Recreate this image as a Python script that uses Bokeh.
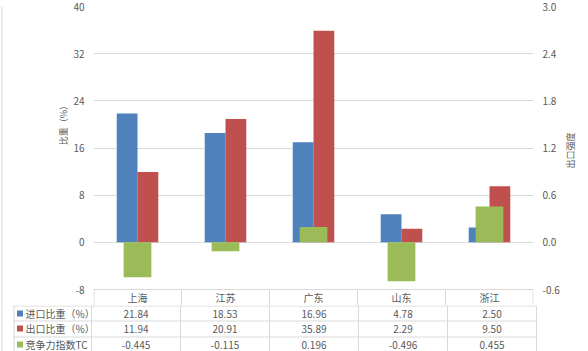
import math
from bokeh.plotting import figure
from bokeh.layouts import column, row
from bokeh.models import Range1d, LinearAxis, FixedTicker, ColumnDataSource, NumeralTickFormatter
from bokeh.core.properties import value
from bokeh.embed import file_html
from bokeh.resources import INLINE

# ---------------- data ----------------
categories = ["上海", "江苏", "广东", "山东", "浙江"]
import_share = [21.84, 18.53, 16.96, 4.78, 2.50]
export_share = [11.94, 20.91, 35.89, 2.29, 9.50]
tc_index = [-0.445, -0.115, 0.196, -0.496, 0.455]
series_names = ["进口比重（%）", "出口比重（%）", "竞争力指数TC"]
left_ticks = [-8, 0, 8, 16, 24, 32, 40]
right_ticks = [-0.6, 0.0, 0.6, 1.2, 1.8, 2.4, 3.0]
left_title = "比重（%）"
right_title = "出口强度"
colors = ["#4F81BD", "#C0504D", "#9BBB59"]

# ---------------- layout (pixels) ----------------
W, H = 588, 351
LEFT_W, RIGHT_X = 70, 562          # side strips for the axis titles
FL, FR, FT = 91, 536, 6            # plot frame
AX_BOTTOM, TOP_H = 289, 305        # -8 line, bottom of the header row
y_top, y_min = 40, -8
ppu = (AX_BOTTOM - FT) / (y_top - y_min)
y_start = y_min - (TOP_H - AX_BOTTOM) / ppu
r2 = (right_ticks[-1] - right_ticks[0]) / (y_top - y_min)
n = len(categories)
cw = (FR - FL) / n

def dx(px):
    return (px - FL) / cw

def dy(py):
    return y_top - (py - FT) / ppu

FONT = "Noto Sans CJK SC"
TXT = "#595959"
GRID = "#D9D9D9"


def blank(width, height, xr, yr):
    f = figure(width=width, height=height, x_range=xr, y_range=yr, output_backend="svg",
               toolbar_location=None, x_axis_location=None, y_axis_location=None,
               min_border=0)
    f.min_border_left = f.min_border_right = f.min_border_top = f.min_border_bottom = 0
    f.outline_line_color = None
    f.xgrid.grid_line_color = None
    f.ygrid.grid_line_color = None
    return f

# ---------------- main chart ----------------
MAIN_W = RIGHT_X - LEFT_W
p = figure(width=MAIN_W, height=TOP_H, x_range=Range1d(0, n), y_range=Range1d(y_start, y_top),
           output_backend="svg", toolbar_location=None, x_axis_location=None,
           min_border_left=FL - LEFT_W, min_border_right=RIGHT_X - FR, min_border_top=FT,
           min_border_bottom=0)
p.extra_y_ranges = {"tc": Range1d(y_start * r2, y_top * r2)}
p.outline_line_color = None

ya = p.yaxis[0]
ya.ticker = FixedTicker(ticks=left_ticks)
ya.formatter = NumeralTickFormatter(format="0")
ya.major_label_overrides = {v: ("%d" % v) for v in left_ticks if v < 0}
ax2 = LinearAxis(y_range_name="tc", ticker=FixedTicker(ticks=right_ticks),
                 formatter=NumeralTickFormatter(format="0.0"))
ax2.major_label_overrides = {v: ("%.1f" % v) for v in right_ticks if v < 0}
p.add_layout(ax2, "right")
for ax, so in ((ya, 9), (ax2, 9)):
    ax.axis_line_color = None
    ax.major_tick_line_color = None
    ax.minor_tick_line_color = None
    ax.major_tick_out = 0
    ax.major_tick_in = 0
    ax.minor_tick_out = 0
    ax.major_label_standoff = so
    ax.major_label_text_font = FONT
    ax.major_label_text_font_size = "10px"
    ax.major_label_text_color = TXT

p.ygrid.ticker = FixedTicker(ticks=left_ticks)
p.ygrid.grid_line_color = GRID
p.xgrid.grid_line_color = None

xc = [i + 0.5 for i in range(n)]
bw = 0.236
src = ColumnDataSource(dict(
    x_imp=[x - bw / 2 for x in xc], x_exp=[x + bw / 2 for x in xc], x_tc=xc,
    imp=import_share, exp=export_share, tc=tc_index))
p.vbar(x="x_imp", top="imp", bottom=0, width=bw, source=src, fill_color=colors[0], line_color=None)
p.vbar(x="x_exp", top="exp", bottom=0, width=bw, source=src, fill_color=colors[1], line_color=None)
p.vbar(x="x_tc", top="tc", bottom=0, width=0.315, source=src, fill_color=colors[2],
       line_color=None, y_range_name="tc")

# header row of the data table (category names)
edge = 0.5 / cw
div_x = [0 + edge] + [float(i) for i in range(1, n)] + [n - edge]
p.segment(x0=div_x, y0=[y_min] * (n + 1), x1=div_x, y1=[y_start] * (n + 1),
          line_color=GRID, line_width=1)
p.text(x=xc, y=[dy(297)] * n, text=categories, text_align="center", text_baseline="middle",
       text_font=value(FONT), text_font_size="10px", text_color=TXT)

# ---------------- axis titles ----------------
lf = blank(LEFT_W, TOP_H, Range1d(0, LEFT_W), Range1d(TOP_H, 0))
lf.text(x=[62.5], y=[119], text=[left_title], angle=math.pi / 2, text_align="center",
        text_baseline="middle", text_font=value(FONT), text_font_size="9px", text_color=TXT)
lf.segment(x0=[1.5], y0=[0], x1=[1.5], y1=[TOP_H], line_color=GRID, line_width=1)

rf = blank(W - RIGHT_X, TOP_H, Range1d(RIGHT_X, W), Range1d(TOP_H, 0))
rf.text(x=[569.5], y=[147], text=[right_title], angle=math.pi / 2, text_align="center",
        text_baseline="middle", text_font=value(FONT), text_font_size="9px", text_color=TXT)

# ---------------- data table body ----------------
t = blank(W, H - TOP_H, Range1d(dx(0), dx(W)), Range1d(dy(H), dy(TOP_H)))
hy = [305.5, 320.5, 336.5]
t.segment(x0=[dx(13)] * 3, y0=[dy(v) for v in hy], x1=[dx(FR)] * 3, y1=[dy(v) for v in hy],
          line_color=GRID, line_width=1)
vx = [dx(13.5)] + [float(i) for i in range(n + 1)]
t.segment(x0=vx, y0=[dy(305)] * len(vx), x1=vx, y1=[dy(H)] * len(vx),
          line_color=GRID, line_width=1)
t.segment(x0=[dx(1.5)], y0=[dy(305)], x1=[dx(1.5)], y1=[dy(H)], line_color=GRID, line_width=1)

row_y = [313, 328, 344]
rows = [["%.2f" % v for v in import_share],
        ["%.2f" % v for v in export_share],
        ["%.3f" % v for v in tc_index]]
tx, ty, tt = [], [], []
for r, vals in enumerate(rows):
    for i, s in enumerate(vals):
        tx.append(xc[i]); ty.append(dy(row_y[r])); tt.append(s)
t.text(x=tx, y=ty, text=tt, text_align="center", text_baseline="middle",
       text_font=value(FONT), text_font_size="10px", text_color=TXT)

t.scatter(x=[dx(19.5)] * 3, y=[dy(v) for v in row_y], marker="square", size=6,
          fill_color=colors, line_color=None)
t.text(x=[dx(25)] * 3, y=[dy(v) for v in row_y], text=series_names, text_align="left",
       text_baseline="middle", text_font=value(FONT), text_font_size="10px", text_color=TXT)

layout = column(row(lf, p, rf), t)
open("out.html", "w").write(file_html(layout, INLINE))
